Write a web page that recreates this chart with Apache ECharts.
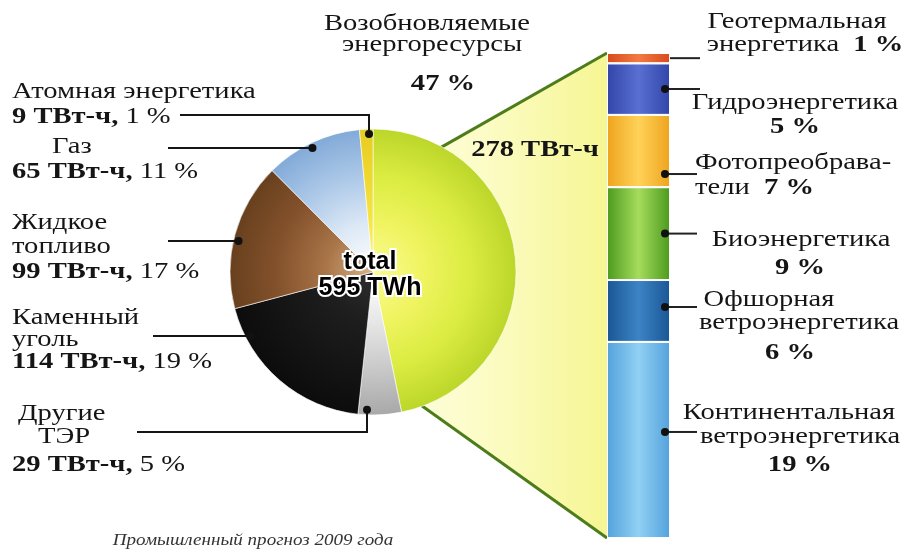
<!DOCTYPE html>
<html>
<head>
<meta charset="utf-8">
<title>Возобновляемые энергоресурсы</title>
<script src="https://cdn.jsdelivr.net/npm/echarts@6/dist/echarts.min.js"></script>
<style>
  html, body { margin: 0; padding: 0; background: #fff; }
  #chart { width: 907px; height: 553px; }
</style>
</head>
<body>
<div id="chart"></div>
<script>
// производство электроэнергии, ТВт-ч (по часовой стрелке от 12 часов)
const sources = ['Возобновляемые\nэнергоресурсы', 'Другие\nТЭР', 'Каменный\nуголь', 'Жидкое\nтопливо', 'Газ', 'Атомная энергетика'];
const twh = [278, 29, 114, 99, 65, 9];
const shares = [47, 5, 19, 17, 11, 1];
const total = 595;

// возобновляемые источники, сверху вниз, % от общего
const renewables = ['Геотермальная\nэнергетика', 'Гидроэнергетика', 'Фотопреобрава-\nтели', 'Биоэнергетика', 'Офшорная\nветроэнергетика', 'Континентальная\nветроэнергетика'];
const renewShares = [1, 5, 7, 9, 6, 19];

const footnote = 'Промышленный прогноз 2009 года';

// геометрия
const PIE = {cx: 373, cy: 272, r: 143};
const BAR = {left: 607, top: 53, width: 63, height: 485};
const SERIF = '"Liberation Serif", "Times New Roman", serif';
const FS = 24;
const SX = 1.19;

// подписи слева от круга: x/y каждой строки, выноска
const pieLabels = [
  {align: 'center', xs: [427, 432, 443], ys: [24, 45, 84]},
  {xs: [18, 38, 12], ys: [414, 437, 465], lead: {x: 137, y: 432, elbow: 367}},
  {xs: [12, 12, 12], ys: [318, 340, 362], lead: {x: 153, y: 336}},
  {xs: [12, 12, 12], ys: [223, 247, 272], lead: {x: 168, y: 241}},
  {xs: [52, 12], ys: [147, 172], lead: {x: 168, y: 148}},
  {xs: [12, 12], ys: [92, 117], lead: {x: 180, y: 115, elbow: 369}}
];
// подписи справа от столбца
const barLabels = [
  {xs: [797, 805], ys: [22, 45], inline: true, to: 700, noDot: true},
  {xs: [795, 795], ys: [103, 127], to: 700},
  {xs: [695, 695], ys: [163, 188], inline: true, align: 'left', to: 697, dy: 23},
  {xs: [801, 800], ys: [240, 268], to: 697},
  {xs: [769, 799, 790], ys: [300, 323, 353], to: 697, dy: -4},
  {xs: [789, 800, 800], ys: [413, 437, 465], to: 697, dy: -8}
];

const sum = a => a.reduce((s, v) => s + v, 0);

const radial = stops => ({
  type: 'radial', x: PIE.cx, y: PIE.cy, r: PIE.r, global: true,
  colorStops: stops.map((c, i) => ({offset: i / (stops.length - 1), color: c}))
});
const pieColors = [
  radial(['#fbfb96', '#f0f462', '#dcec42', '#bcd62a']),
  radial(['#ffffff', '#e8e8e8', '#cacaca', '#a8a8a8']),
  radial(['#2e2e2e', '#1e1e1e', '#151515', '#0c0c0c']),
  radial(['#d8b48a', '#a87448', '#84522c', '#68401e']),
  radial(['#ffffff', '#dde9f6', '#adc9e8', '#82aad8']),
  radial(['#fff6a0', '#f6e64a', '#eed830', '#e8cc20'])
];
const barColors = [
  ['#d84a1c', '#f27a42'],
  ['#3146a8', '#5a6fd2'],
  ['#eea41e', '#ffd258'],
  ['#4c9a1e', '#a6dc5c'],
  ['#1a5696', '#3c84c4'],
  ['#54a2dc', '#90d0f4']
];
const hgrad = c => new echarts.graphic.LinearGradient(0, 0, 1, 0, [
  {offset: 0, color: c[0]}, {offset: 0.5, color: c[1]}, {offset: 1, color: c[0]}
]);

const chart = echarts.init(document.getElementById('chart'));

chart.setOption({
  animation: false,
  grid: {left: BAR.left, top: BAR.top, width: BAR.width, height: BAR.height},
  xAxis: {type: 'category', data: ['ВИЭ'], show: false},
  yAxis: {type: 'value', min: 0, max: sum(renewShares), inverse: true, show: false},
  series: [
    {
      type: 'pie',
      center: [PIE.cx, PIE.cy],
      radius: PIE.r,
      startAngle: 90,
      clockwise: true,
      silent: true,
      label: {show: false},
      labelLine: {show: false},
      itemStyle: {borderColor: 'rgba(255,255,255,0.6)', borderWidth: 1},
      data: sources.map((name, i) => ({name: name, value: twh[i], itemStyle: {color: pieColors[i]}}))
    }
  ].concat(renewables.map((name, i) => ({
    type: 'bar',
    name: name,
    stack: 'vie',
    barWidth: '100%',
    silent: true,
    data: [renewShares[i]],
    itemStyle: {color: hgrad(barColors[i]), borderColor: 'rgba(255,255,255,0.85)', borderWidth: 1}
  })))
});

function fnt(bold, size) {
  return (bold ? 'bold ' : '') + (size || FS) + 'px ' + SERIF;
}
function label(x, y, str, align) {
  return {
    type: 'text', x: x, y: y, scaleX: SX, z: 20,
    style: {
      text: str, font: fnt(false), fill: '#151515',
      align: align, verticalAlign: 'middle',
      textAlign: align, textVerticalAlign: 'middle',
      rich: {
        b: {font: fnt(true), fill: '#151515'},
        n: {font: fnt(false), fill: '#151515'}
      }
    }
  };
}
function onCircle(deg, rr) {
  const a = deg * Math.PI / 180;
  return [PIE.cx + rr * Math.sin(a), PIE.cy - rr * Math.cos(a)];
}

const g = [];

// жёлтый «раструб» от сектора ВИЭ к столбцу
const span = twh[0] / sum(twh) * 360;
const p1 = onCircle(span * 0.17, PIE.r - 1);
const p2 = onCircle(span * 0.95, PIE.r - 1);
const yTop = chart.convertToPixel({gridIndex: 0}, [0, 0])[1];
const yBot = chart.convertToPixel({gridIndex: 0}, [0, sum(renewShares)])[1];
g.push({
  type: 'polygon', z: 0,
  shape: {points: [[PIE.cx, PIE.cy], p1, [BAR.left, yTop], [BAR.left, yBot], p2]},
  style: {fill: new echarts.graphic.LinearGradient(0, 0, 1, 0, [
    {offset: 0, color: '#fefee6'}, {offset: 0.45, color: '#fcfcc8'}, {offset: 1, color: '#f6f694'}
  ])}
});
g.push({type: 'line', z: 1, shape: {x1: p1[0], y1: p1[1], x2: BAR.left, y2: yTop}, style: {stroke: '#4d7d1a', lineWidth: 3}});
g.push({type: 'line', z: 1, shape: {x1: p2[0], y1: p2[1], x2: BAR.left, y2: yBot}, style: {stroke: '#4d7d1a', lineWidth: 3}});

// подписи круга и выноски
const R = PIE.r - 5;
sources.forEach((name, i) => {
  const L = pieLabels[i];
  const lines = name.split('\n');
  if (i === 0) lines.push('{b|' + shares[i] + ' %}');
  else lines.push('{b|' + twh[i] + ' ТВт-ч,}{n| ' + shares[i] + ' %}');
  lines.forEach((t, k) => g.push(label(L.xs[k], L.ys[k], t, L.align || 'left')));
  if (!L.lead) return;
  let dot, pts;
  if (L.lead.elbow != null) {
    const h = Math.sqrt(R * R - Math.pow(L.lead.elbow - PIE.cx, 2));
    dot = [L.lead.elbow, L.lead.y < PIE.cy ? PIE.cy - h : PIE.cy + h];
    pts = [[L.lead.x, L.lead.y], [L.lead.elbow, L.lead.y], dot];
  } else {
    dot = [PIE.cx - Math.sqrt(R * R - Math.pow(L.lead.y - PIE.cy, 2)), L.lead.y];
    pts = [[L.lead.x, L.lead.y], dot];
  }
  g.push({type: 'polyline', z: 15, shape: {points: pts}, style: {stroke: '#151515', lineWidth: 2, fill: null}});
  g.push({type: 'circle', z: 16, shape: {cx: dot[0], cy: dot[1], r: 4}, style: {fill: '#111'}});
});
g.push(label(535, 150, '{b|' + twh[0] + ' ТВт-ч}', 'center'));

// подписи столбца
let acc = 0;
renewables.forEach((name, i) => {
  const L = barLabels[i];
  const mid = chart.convertToPixel({gridIndex: 0}, [0, acc + renewShares[i] / 2])[1] + (L.dy || 0);
  acc += renewShares[i];
  const lines = name.split('\n');
  if (L.inline) lines[lines.length - 1] += '  {b|' + renewShares[i] + ' %}';
  else lines.push('{b|' + renewShares[i] + ' %}');
  lines.forEach((t, k) => g.push(label(L.xs[k], L.ys[k], t, L.align || 'center')));
  const x0 = L.noDot ? BAR.left + BAR.width : BAR.left + BAR.width - 5;
  g.push({type: 'line', z: 15, shape: {x1: x0, y1: mid, x2: L.to, y2: mid}, style: {stroke: '#222', lineWidth: 2}});
  if (!L.noDot) g.push({type: 'circle', z: 16, shape: {cx: x0, cy: mid, r: 4}, style: {fill: '#111'}});
});

// итог в центре круга
['total', total + ' TWh'].forEach((t, k) => g.push({
  type: 'text', x: 370, y: 262 + k * 26, z: 20,
  style: {
    text: t, font: 'bold 25px "Liberation Sans", Arial, sans-serif',
    fill: '#000', stroke: '#fff', lineWidth: 4,
    align: 'center', verticalAlign: 'middle', textAlign: 'center', textVerticalAlign: 'middle'
  }
}));

g.push({
  type: 'text', x: 253, y: 541, scaleX: 1.12, z: 20,
  style: {
    text: footnote, font: 'italic 17px ' + SERIF, fill: '#333',
    align: 'center', verticalAlign: 'middle', textAlign: 'center', textVerticalAlign: 'middle'
  }
});

chart.setOption({graphic: g});
</script>
</body>
</html>
